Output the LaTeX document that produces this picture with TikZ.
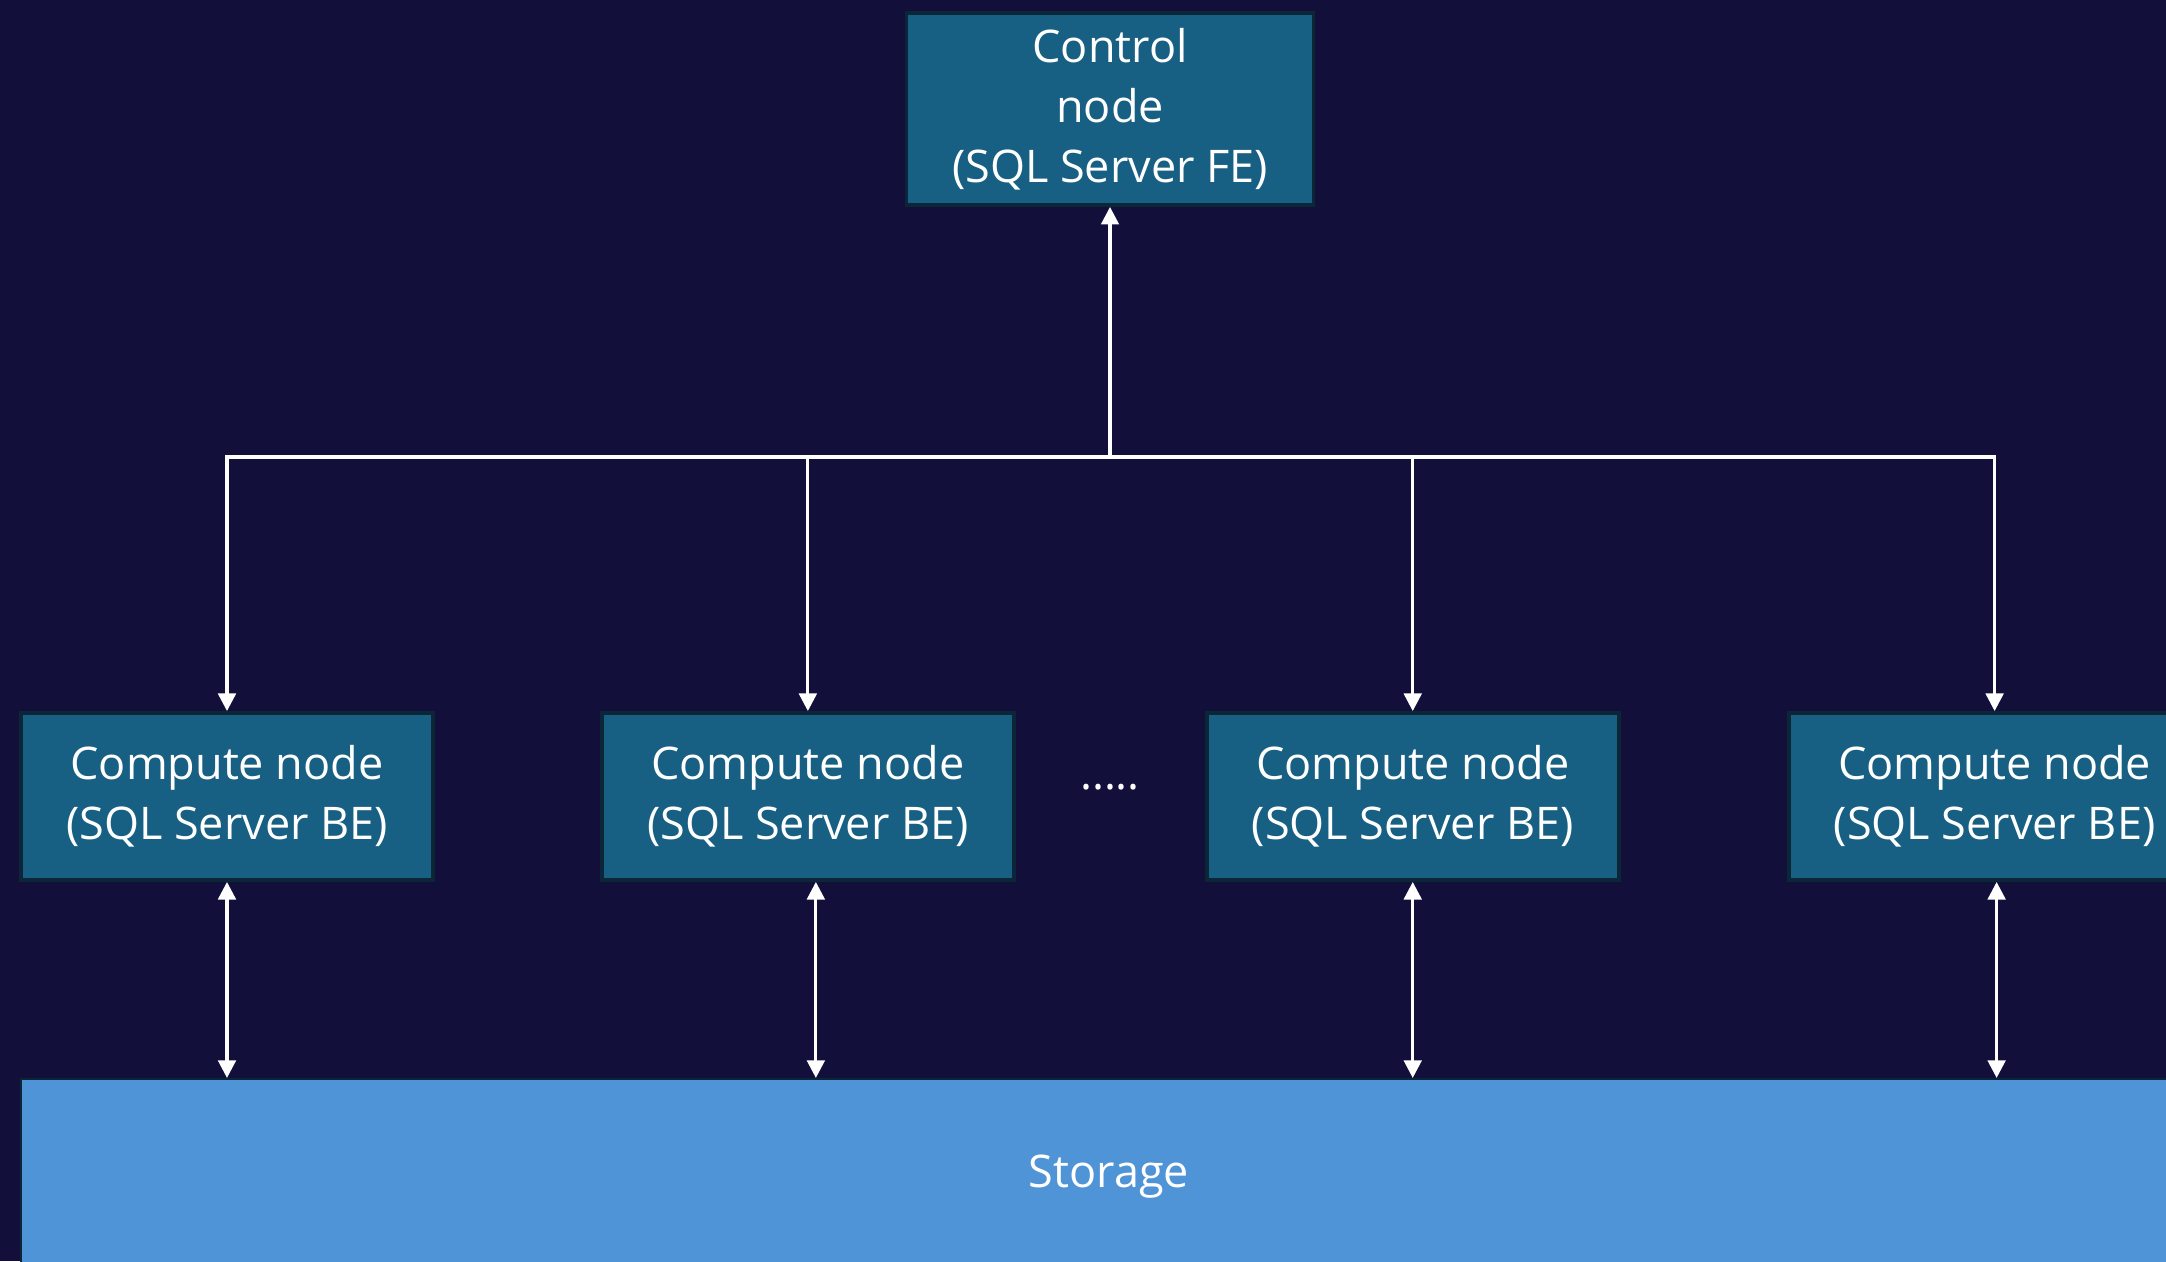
\documentclass[tikz,border=0pt]{standalone}
\usepackage{fontspec}
\setmainfont{Open Sans}
\usetikzlibrary{positioning,calc,arrows.meta}
\definecolor{navy}{HTML}{12103A}
\definecolor{nodeblue}{HTML}{176083}
\definecolor{nodeedge}{HTML}{0B2636}
\definecolor{storeblue}{HTML}{4F94D6}
\tikzstyle{core}=[rectangle, draw=nodeedge, line width=1.1pt, fill=nodeblue, text=white, align=center, font=\fontsize{12.8}{17}\selectfont, minimum width=4.12cm, minimum height=1.67cm, inner sep=0pt]
\tikzstyle{store}=[rectangle, draw=nodeedge, line width=0.6pt, fill=storeblue, text=white, font=\fontsize{12.8}{17}\selectfont, minimum width=21.76cm, minimum height=1.96cm]
\tikzstyle{myarrow}=[-{Triangle[width=5pt,length=5pt]}, draw=white, line width=0.9pt]
\tikzstyle{dblarrow}=[{Triangle[width=5pt,length=5pt]}-{Triangle[width=5pt,length=5pt]}, draw=white, line width=0.9pt]

\begin{document}
\begin{tikzpicture}

        \useasboundingbox (0,0) rectangle (21.66,12.61);
        \clip (0,0) rectangle (21.66,12.61);
        \fill[navy] (0,0) rectangle (21.66,12.61);

        % Control node
        \node (control) [core, minimum width=4.07cm, minimum height=1.92cm] at (11.10,11.52) {Control\\node\\(SQL Server FE)};

        % Compute nodes
        \node (compute1) [core] at (2.27,4.645) {Compute node\\(SQL Server BE)};
        \node (compute2) [core, right=1.65cm of compute1] {Compute node\\(SQL Server BE)};
        \node (compute3) [core, right=1.89cm of compute2] {Compute node\\(SQL Server BE)};
        \node (compute4) [core, right=1.66cm of compute3] {Compute node\\(SQL Server BE)};

        \node (dots) [text=white, font=\fontsize{12.8}{17}\selectfont, anchor=base] at (11.10,4.72) {.....};

        % Storage
        \node (storage) [store] at (11.09,0.84) {Storage};

        %Arrows
        \coordinate (bus) at (11.10,8.04);
        \draw[myarrow] (bus) -- (control.south);

        \draw[myarrow] (bus) -| (compute1.north);
        \draw[myarrow] (bus) -| (compute2.north);
        \draw[myarrow] (bus) -| (compute3.north);
        \draw[myarrow] (bus) -| (compute4.north);

        %Compute <-> Storage Arrows
        \draw[dblarrow] (compute1.south) -- (compute1.south |- storage.north);
        \draw[dblarrow] ($(compute2.south)+(0.08,0)$) -- ($(compute2.south |- storage.north)+(0.08,0)$);
        \draw[dblarrow] (compute3.south) -- (compute3.south |- storage.north);
        \draw[dblarrow] ($(compute4.south)+(0.02,0)$) -- ($(compute4.south |- storage.north)+(0.02,0)$);

\end{tikzpicture}
\end{document}
